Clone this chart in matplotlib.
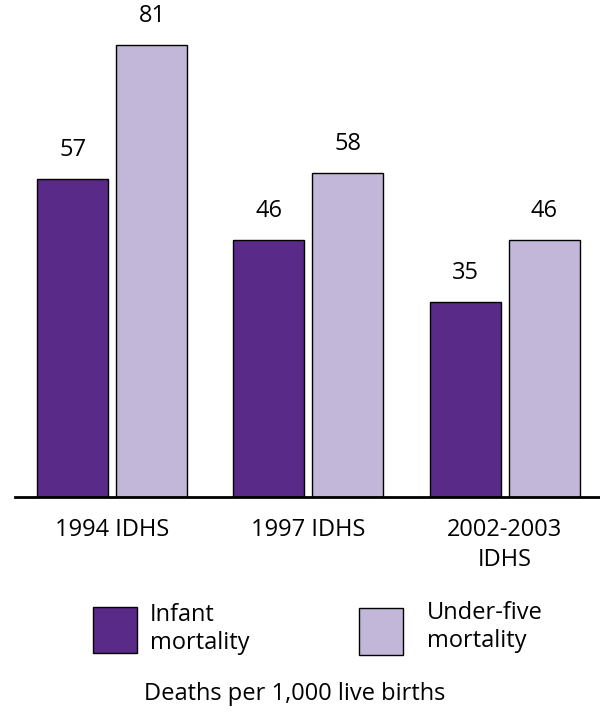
import matplotlib.pyplot as plt
from matplotlib.patches import Rectangle
import numpy as np

plt.rcParams['font.family'] = ['Open Sans', 'DejaVu Sans']

# data
surveys = ["1994 IDHS", "1997 IDHS", "2002-2003\nIDHS"]
infant = [57, 46, 35]
under_five = [81, 58, 46]

c_infant = "#592a87"
c_under5 = "#c2b7d8"
fs = 17

W, H = 600, 713
fig = plt.figure(figsize=(W / 100, H / 100), dpi=100)

# axes spans from x=15px to right edge, baseline at y=497px
base_px = 497
ax = fig.add_axes([15 / W, (H - base_px) / H, 585 / W, base_px / H])
ax.set_ylim(0, base_px / 5.58)
ax.set_xlim(-0.497, 2.487)

x = np.arange(len(surveys))
bw = 0.362
off = 0.2015
b1 = ax.bar(x - off, infant, bw, color=c_infant, edgecolor="black", linewidth=1)
b2 = ax.bar(x + off, under_five, bw, color=c_under5, edgecolor="black", linewidth=1)

for bars, vals in [(b1, infant), (b2, under_five)]:
    for rect, v in zip(bars, vals):
        ax.annotate(str(v), (rect.get_x() + rect.get_width() / 2, v),
                    xytext=(0, 16.5), textcoords="offset points",
                    ha="center", va="baseline", fontsize=fs)

for s in ["top", "right", "left"]:
    ax.spines[s].set_visible(False)
ax.spines["bottom"].set_linewidth(2)
ax.set_yticks([])
ax.set_xticks(x)
ax.set_xticklabels(surveys, fontsize=fs, va="top", linespacing=1.35)
ax.tick_params(axis="x", length=0, pad=15)

# legend drawn by hand
fig.patches.append(Rectangle((93 / W, 1 - 653 / H), 44 / W, 46 / H, transform=fig.transFigure,
                             facecolor=c_infant, edgecolor="black", linewidth=1))
fig.patches.append(Rectangle((359 / W, 1 - 655 / H), 44 / W, 47 / H, transform=fig.transFigure,
                             facecolor=c_under5, edgecolor="black", linewidth=1))
fig.text(150 / W, 1 - 629 / H, "Infant\nmortality", fontsize=fs, va="center", ha="left",
         linespacing=1.25)
fig.text(427 / W, 1 - 627 / H, "Under-five\nmortality", fontsize=fs, va="center", ha="left",
         linespacing=1.25)

fig.text(295 / W, 1 - 694 / H, "Deaths per 1,000 live births", fontsize=fs,
         ha="center", va="center")

fig.savefig("out.png", dpi=100)
